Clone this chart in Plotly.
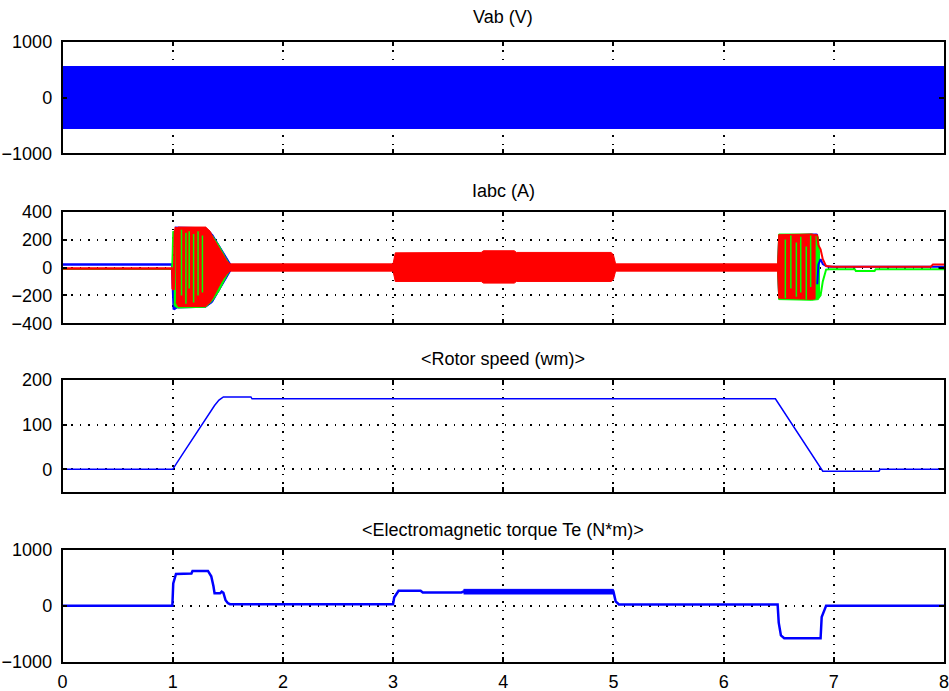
import plotly.graph_objects as go

# ---------------- data ----------------
# Vab: dense 50 Hz sine, shown as its envelope band
vab_t = [0.0, 8.0]
vab_hi = [555, 555]
vab_lo = [-555, -555]

# Iabc before start (steady lines)
ib_pre_t = [0.0, 0.995, 1.0, 1.01, 1.02]
ib_pre_v = [22, 22, -100, -300, -290]
ig_pre_t = [0.0, 0.995, 1.0, 1.005, 1.01]
ig_pre_v = [-10, -10, 100, 260, 250]
ir_pre_t = [0.0, 0.997, 1.0, 1.01, 1.02, 1.03]
ir_pre_v = [-8, -8, -150, -160, 250, 290]

# envelope bands of the oscillating phase currents
ib_band_t = [1.02, 1.04, 1.30, 1.36, 1.40, 1.45, 1.50, 1.53,
             6.49, 6.50, 6.80, 6.85, 6.87]
ib_band_hi = [290, 290, 285, 240, 190, 120, 60, 20,
              20, 230, 240, 240, 60]
ib_band_lo = [-300, -290, -285, -250, -200, -130, -60, -20,
              -20, -225, -230, -225, -100]

ig_band_t = [1.01, 1.02, 1.05, 1.30, 1.36, 1.42, 1.48, 1.52,
             6.49, 6.50, 6.80, 6.86, 6.87]
ig_band_hi = [250, 265, 280, 280, 230, 160, 70, 20,
              20, 240, 240, 220, 100]
ig_band_lo = [-260, -280, -290, -285, -240, -170, -75, -20,
              -20, -230, -235, -230, -200]

ir_band_t = [1.03, 1.05, 1.30, 1.34, 1.37, 1.40, 1.43, 1.46, 1.49, 1.52,
             3.00, 3.02, 3.80, 3.82, 4.10, 4.12, 4.98, 5.00, 5.02,
             6.49, 6.50, 6.80, 6.83]
ir_band_hi = [280, 290, 290, 260, 210, 170, 120, 80, 50, 26,
              26, 105, 108, 120, 120, 108, 108, 90, 26,
              26, 235, 240, 235]
ir_band_lo = [-250, -280, -280, -250, -210, -170, -120, -80, -50, -26,
              -26, -100, -100, -112, -112, -100, -100, -85, -26,
              -26, -220, -228, -225]

# green sampling stripes visible inside the red band
ig_stripe_t = [1.08, 1.12, 1.15, 1.19, 1.23, 1.27, 6.56, 6.61, 6.66, 6.70, 6.75, 6.79]
ig_stripe_hi = [270, 250, 260, 240, 260, 230, 200, 230, 180, 220, 150, 230]
ig_stripe_lo = [-200, -260, -150, -250, -200, -180, -220, -150, -210, -180, -230, -140]

# transients after the stop
ib_end_t = [6.85, 6.86, 6.88, 6.90, 6.92, 6.95, 8.0]
ib_end_v = [-120, 20, 60, 25, 15, 5, 5]
ig_end_t = [6.86, 6.88, 6.90, 6.93, 6.96, 7.19, 7.20, 7.37, 7.38, 8.0]
ig_end_v = [-220, -200, -100, -15, -12, -12, -25, -25, -12, -12]
ir_end_t = [6.83, 6.85, 6.86, 6.88, 6.90, 6.93, 7.0, 7.88, 7.90, 8.0]
ir_end_v = [235, 230, 160, 130, 60, 10, 5, 5, 22, 22]

# rotor speed (rad/s)
wm_t = [0.0, 1.0, 1.1, 1.2, 1.3, 1.38, 1.42, 1.46, 1.71, 1.72,
        6.47, 6.55, 6.65, 6.75, 6.85, 6.90, 7.41, 7.42, 8.0]
wm_v = [0, 0, 38, 76, 114, 143, 155, 162, 162, 158,
        158, 128, 90, 53, 15, -4, -4, 0, 0]

# electromagnetic torque (N*m)
te_t = [0.0, 0.997, 1.005, 1.03, 1.17, 1.18, 1.32, 1.35, 1.37, 1.38, 1.43,
        1.445, 1.46, 1.48, 1.50, 1.52, 3.00, 3.01, 3.05, 3.25, 3.27, 3.62,
        3.64, 5.00, 5.02, 5.05, 6.49, 6.50, 6.52, 6.55, 6.88, 6.89, 6.92,
        6.93, 8.0]
te_v = [0, 0, 400, 570, 580, 625, 625, 530, 350, 225, 225,
        255, 235, 100, 50, 30, 30, 150, 270, 270, 240, 240,
        255, 255, 80, 25, 25, -300, -530, -580, -580, -200, -50,
        0, 0]
te_rip_t = [3.64, 5.0]
te_rip_hi = [295, 295]
te_rip_lo = [212, 212]

titles = ["Vab (V)", "Iabc (A)", "<Rotor speed (wm)>",
          "<Electromagnetic torque Te (N*m)>"]
x_ticks = [0, 1, 2, 3, 4, 5, 6, 7, 8]
y_ranges = [[-1000, 1000], [-400, 400], [-50, 200], [-1000, 1000]]
y_ticks = [[-1000, 0, 1000], [-400, -200, 0, 200, 400], [0, 100, 200],
           [-1000, 0, 1000]]

# ---------------- figure ----------------
BLUE, GREEN, RED = "#0000FF", "#00FF00", "#FF0000"
W, H = 949, 691
fig = go.Figure()


def band(t, hi, lo, color, xa, ya):
    fig.add_trace(go.Scatter(x=list(t) + list(t)[::-1], y=list(hi) + list(lo)[::-1],
                             fill="toself", fillcolor=color, mode="lines",
                             line=dict(color=color, width=1),
                             xaxis=xa, yaxis=ya, showlegend=False, hoverinfo="skip"))


def line(t, v, color, xa, ya, w=1.5):
    fig.add_trace(go.Scatter(x=t, y=v, mode="lines", line=dict(color=color, width=w),
                             xaxis=xa, yaxis=ya, showlegend=False))


def stripes(t, hi, lo, color, xa, ya):
    xs, ys = [], []
    for a, b, c in zip(t, hi, lo):
        xs += [a, a, None]
        ys += [c, b, None]
    fig.add_trace(go.Scatter(x=xs, y=ys, mode="lines", line=dict(color=color, width=1.5),
                             xaxis=xa, yaxis=ya, showlegend=False, hoverinfo="skip"))


# panel 1
band(vab_t, vab_hi, vab_lo, BLUE, "x", "y")
# panel 2
line(ib_pre_t, ib_pre_v, BLUE, "x2", "y2", 2.5)
line(ig_pre_t, ig_pre_v, GREEN, "x2", "y2", 2)
band(ib_band_t, ib_band_hi, ib_band_lo, BLUE, "x2", "y2")
band(ig_band_t, ig_band_hi, ig_band_lo, GREEN, "x2", "y2")
line(ib_end_t, ib_end_v, BLUE, "x2", "y2", 2)
line(ig_end_t, ig_end_v, GREEN, "x2", "y2", 2)
line(ir_pre_t, ir_pre_v, RED, "x2", "y2", 2.5)
band(ir_band_t, ir_band_hi, ir_band_lo, RED, "x2", "y2")
stripes(ig_stripe_t, ig_stripe_hi, ig_stripe_lo, GREEN, "x2", "y2")
line(ir_end_t, ir_end_v, RED, "x2", "y2", 2)
# panel 3
line(wm_t, wm_v, BLUE, "x3", "y3", 1.5)
# panel 4
band(te_rip_t, te_rip_hi, te_rip_lo, BLUE, "x4", "y4")
line(te_t, te_v, BLUE, "x4", "y4", 2.5)

x0, x1 = 62.5 / W, 944 / W
tops = [41.7, 211.7, 380, 550]
bots = [153.3, 323.3, 491.7, 661.7]
title_y = [17, 191, 359, 530]
font = dict(family="Liberation Sans, Arial, sans-serif", size=18, color="black")

layout = dict(width=W, height=H, margin=dict(l=0, r=0, t=0, b=0, autoexpand=False),
              paper_bgcolor="white", plot_bgcolor="white", showlegend=False,
              font=font)
common = dict(showline=True, linecolor="black", linewidth=1.5, mirror="ticks",
              ticks="inside", ticklen=5, tickwidth=1.5, tickcolor="black",
              showgrid=True, gridcolor="black", gridwidth=1.5, griddash="1.5px,7px",
              zeroline=False, tickfont=font, automargin=False,
              ticklabeloverflow="allow")
for i in range(4):
    sx = "" if i == 0 else str(i + 1)
    layout["xaxis" + sx] = dict(common, domain=[x0, x1], range=[0, 8],
                                tickvals=x_ticks, showticklabels=(i == 3),
                                anchor="y" + sx, ticklabelstandoff=3)
    layout["yaxis" + sx] = dict(common, domain=[1 - bots[i] / H, 1 - tops[i] / H],
                                range=y_ranges[i], tickvals=y_ticks[i],
                                anchor="x" + sx, ticklabelstandoff=5)
fig.update_layout(**layout)

for i, ttl in enumerate(titles):
    fig.add_annotation(text=ttl, xref="paper", yref="paper", x=(x0 + x1) / 2,
                       y=1 - title_y[i] / H, xanchor="center", yanchor="middle",
                       showarrow=False, font=dict(font, size=18))

fig.write_html("out.html")
